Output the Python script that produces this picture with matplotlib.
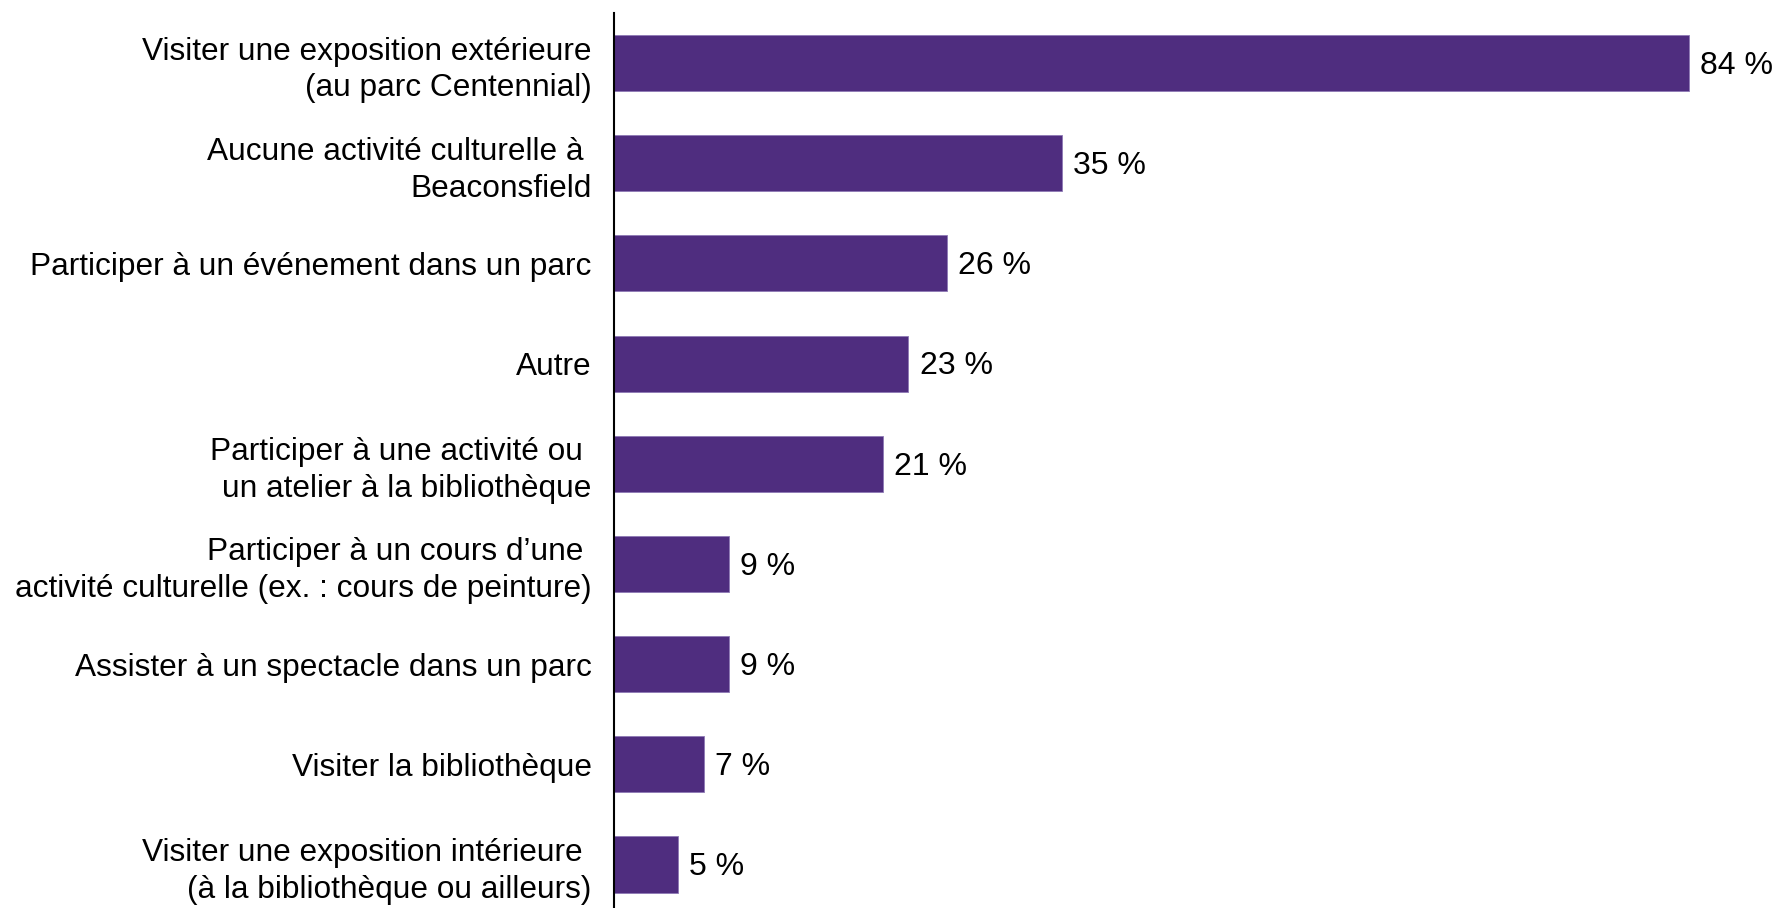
import matplotlib
matplotlib.use("Agg")
import matplotlib.pyplot as plt
import numpy as np

plt.rcParams['font.family'] = ['Liberation Sans', 'DejaVu Sans']

# categories, top to bottom
labels = [
    "Visiter une exposition extérieure\n(au parc Centennial)",
    "Aucune activité culturelle à \nBeaconsfield",
    "Participer à un événement dans un parc",
    "Autre",
    "Participer à une activité ou \nun atelier à la bibliothèque",
    "Participer à un cours d\u2019une \nactivité culturelle (ex. : cours de peinture)",
    "Assister à un spectacle dans un parc",
    "Visiter la bibliothèque",
    "Visiter une exposition intérieure \n(à la bibliothèque ou ailleurs)",
]
values = [84, 35, 26, 23, 21, 9, 9, 7, 5]

BAR_COLOR = "#4F2D7F"

fig = plt.figure(figsize=(17.75, 9.08), dpi=100)
ax = fig.add_axes([614 / 1775, 0, (1775 - 614) / 1775, (908 - 13) / 908])

y = np.arange(len(labels))
bars = ax.barh(y, values, height=0.56, color=BAR_COLOR, edgecolor="#8E79B5", linewidth=0.6)

for b, v in zip(bars, values):
    ax.annotate(f"{v} %", xy=(b.get_width(), b.get_y() + b.get_height() / 2),
                xytext=(8, -2), textcoords="offset points",
                va="center", ha="left", fontsize=23)

ax.set_yticks(y)
ax.set_yticklabels(labels, fontsize=22.8, linespacing=1.3)
ax.tick_params(axis="y", length=0, pad=16)
ax.set_ylim(8.434, -0.5)
ax.set_xlim(0, 90.7)
ax.set_xticks([])

for s in ["top", "right", "bottom"]:
    ax.spines[s].set_visible(False)
ax.spines["left"].set_linewidth(1.5)
ax.spines["left"].set_color("black")

fig.savefig("out.png", dpi=100)
